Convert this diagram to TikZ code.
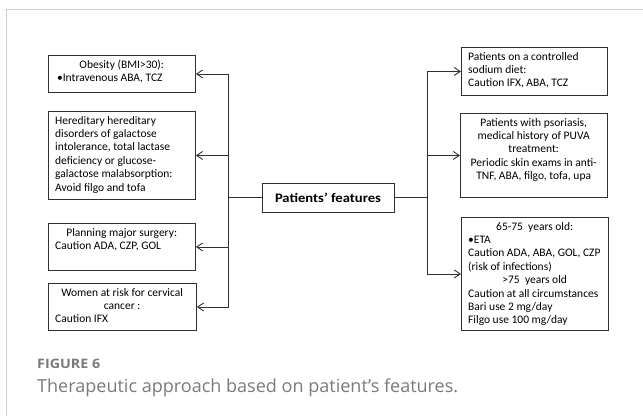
\documentclass[tikz,border=0pt]{standalone}
\usepackage{fontspec}
\setmainfont{Carlito}
\newfontfamily\capfont{Open Sans}
\usetikzlibrary{arrows.meta}

\definecolor{framegray}{HTML}{D0D0D0}
\definecolor{capgray}{HTML}{7A7A7A}
\definecolor{linegray}{HTML}{303030}

\tikzset{
    fbox/.style={draw=linegray, line width=0.9pt, inner sep=0pt, anchor=north west},
    boxtext/.style={anchor=north west, align=left, inner xsep=7pt, inner ysep=3.5pt,
        font=\fontsize{11.5}{13.4}\selectfont},
    arr/.style={draw=linegray, line width=0.9pt, -{Straight Barb[length=6pt,width=8pt]}},
    bus/.style={draw=linegray, line width=0.9pt}
}

% centred line inside a box
\newlength{\boxinner}
\newcommand{\midline}[1]{\makebox[\boxinner]{#1}}

% box with its text at the top: name, x, y, width, height, text
\newcommand{\featurebox}[6]{
    \setlength{\boxinner}{\dimexpr#4pt-14pt\relax}
    \node[fbox, minimum width=#4pt, minimum height=#5pt] (#1) at (#2,#3) {};
    \node[boxtext] (#1-txt) at (#1.north west) {\strut#6};
}

\begin{document}
\begin{tikzpicture}[x=1pt,y=-1pt]
    \useasboundingbox (0,0) rectangle (643,416);

    % card frame
    \draw[framegray, line width=1.5pt] (6.5,416) -- (6.5,9.5) -- (643,9.5);

    % centre
    \node[draw=linegray, line width=0.9pt, minimum width=132pt, minimum height=29pt,
        font=\fontsize{13}{14}\selectfont\bfseries] (pf) at (328,197.5) {\resizebox{106pt}{\height}{Patients’ features}};

    % left column
    \featurebox{obesity}{48}{55}{147}{37}{\midline{Obesity (BMI>30):}\\\,•Intravenous ABA, TCZ}
    \featurebox{galact}{48}{111}{147}{88}{Hereditary hereditary\\disorders of galactose\\intolerance, total lactase\\deficiency or glucose-\\galactose malabsorption:\\Avoid filgo and tofa}
    \featurebox{surgery}{48}{223}{147}{47}{\midline{Planning major surgery:}\\Caution ADA, CZP, GOL}
    \featurebox{cervical}{48}{283}{148}{47}{\midline{Women at risk for cervical}\\\midline{cancer :}\\Caution IFX}

    % right column
    \featurebox{sodium}{461}{47}{146}{48}{Patients on a controlled\\sodium diet:\\Caution IFX, ABA, TCZ}
    \featurebox{psoriasis}{460}{113}{147}{84}{\midline{Patients with psoriasis,}\\\midline{medical history of PUVA}\\\midline{treatment:}\\\midline{Periodic skin exams in anti-}\\\midline{TNF, ABA, filgo, tofa, upa}}
    \featurebox{elderly}{461}{217}{147}{113}{\midline{65-75\ \ years old:}\\•ETA\\Caution ADA, ABA, GOL, CZP\\(risk of infections)\\\midline{>75\ \ years old}\\Caution at all circumstances\\Bari use 2 mg/day\\Filgo use 100 mg/day}

    % connectors
    \coordinate (lbus) at (228,197.5);
    \coordinate (rbus) at (427,197.5);
    \draw[bus] (pf.west) -- (lbus);
    \draw[bus] (pf.east) -- (rbus);
    \draw[arr] (lbus) |- (obesity.east);
    \draw[arr] (lbus) |- (galact.east);
    \draw[arr] (lbus) |- (surgery.east);
    \draw[arr] (lbus) |- (cervical.east);
    \draw[arr] (rbus) |- (sodium.west);
    \draw[arr] (rbus) |- (psoriasis.west);
    \draw[arr] (rbus) |- (elderly.west);

    % caption
    \node[anchor=base west, inner sep=0pt, text=capgray, font=\capfont\bfseries\fontsize{13}{16}\selectfont] (fig) at (37,368) {\resizebox{63pt}{\height}{FIGURE 6}};
    \node[anchor=base west, inner sep=0pt, text=capgray, font=\capfont\fontsize{18}{20}\selectfont] (cap) at (37,392) {\resizebox{421pt}{\height}{Therapeutic approach based on patient’s features.}};
\end{tikzpicture}
\end{document}
